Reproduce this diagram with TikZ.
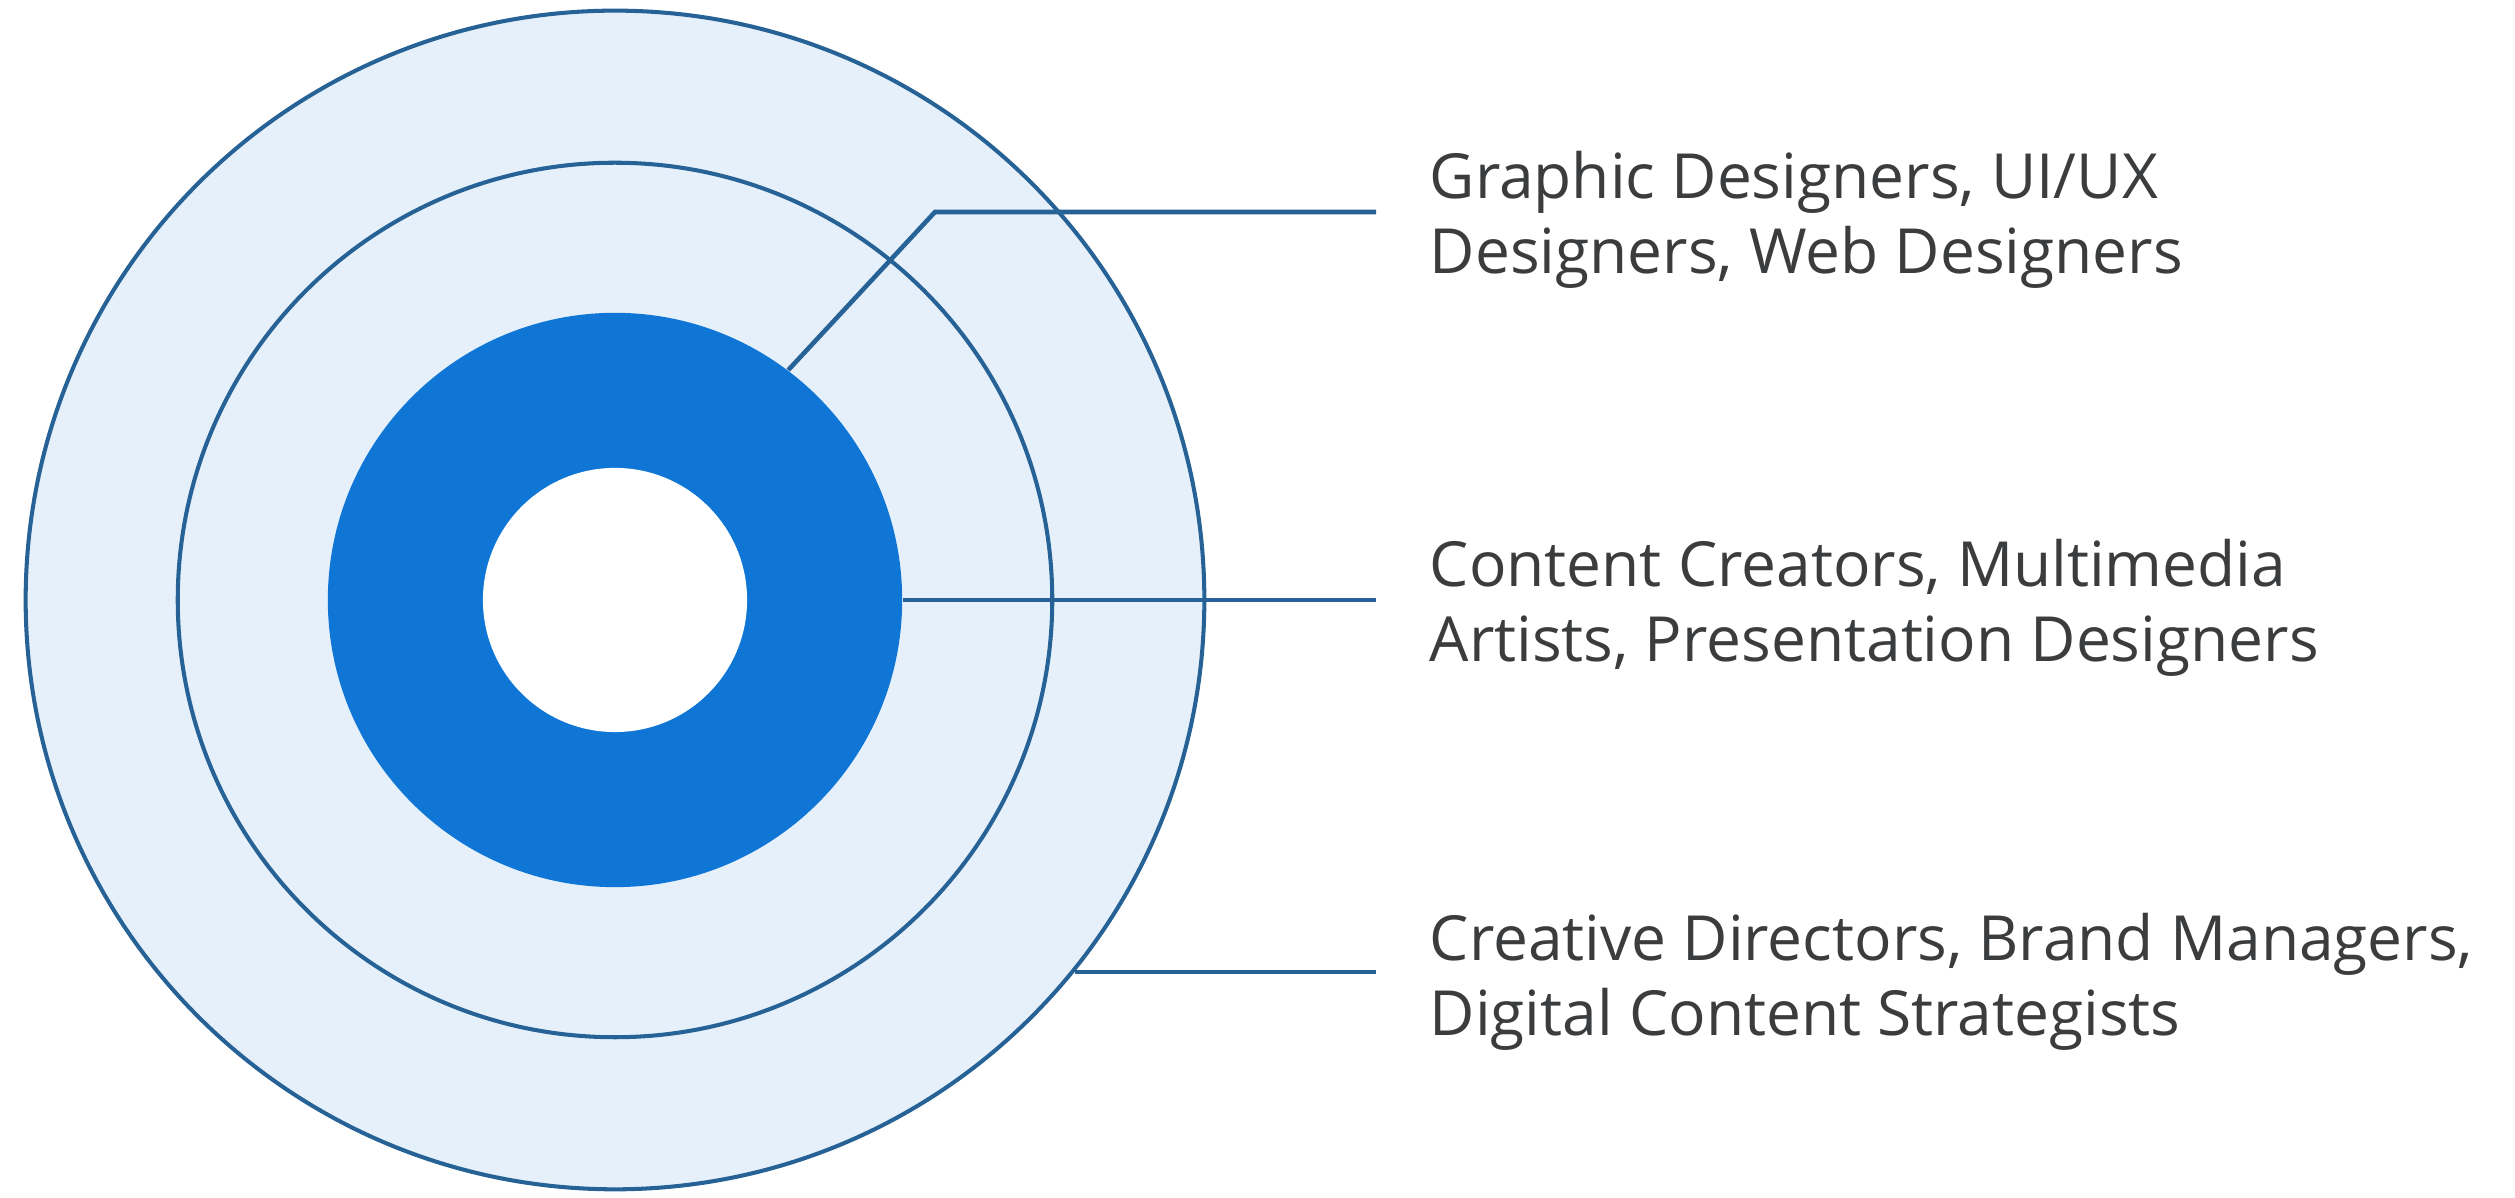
\documentclass[tikz,border=0pt]{standalone}
\usepackage{fontspec}
\setmainfont{Open Sans}
\usepackage{tikz}
\usetikzlibrary{positioning}
\definecolor{ringline}{RGB}{38,98,150}
\definecolor{ringfill}{RGB}{230,240,250}
\definecolor{coreblue}{RGB}{16,118,214}
\definecolor{labelgray}{RGB}{58,60,62}
\tikzstyle{band} = [circle, draw=ringline, line width=1.15pt, fill=ringfill, inner sep=0pt]
\tikzstyle{core} = [circle, fill=coreblue, inner sep=0pt]
\tikzstyle{hole} = [circle, fill=white, inner sep=0pt]
\tikzstyle{label} = [anchor=west, align=left, text=labelgray, inner xsep=0.53cm, inner ysep=0pt, yshift=-0.08cm, font=\fontsize{17.7}{21.3}\selectfont]
\tikzstyle{leader} = [draw=ringline, line width=1.3pt]

\begin{document}
\begin{tikzpicture}[x=0.01cm, y=0.01cm]
        \useasboundingbox (0,0) rectangle (2515,1198);
        \coordinate (c) at (615,598);
        \node (outer) [band, minimum size=11.78cm] at (c) {};
        \node (middle) [band, minimum size=8.74cm] at (c) {};
        \node (ring) [core, minimum size=5.74cm] at (c) {};
        \node (inner) [hole, minimum size=2.64cm] at (c) {};

        \node (graphic) [label] at (1376,986) {Graphic Designers, UI/UX\\Designers, Web Designers};
        \node (content) [label] at (1376,598) {Content Creators, Multimedia\\Artists, Presentation Designers};
        \node (creative) [label] at (1376,224) {Creative Directors, Brand Managers,\\Digital Content Strategists};

        \coordinate (bend) at (935,986);
        \draw [leader] (ring.53) -- (bend) -- (bend -| graphic.west);
        \draw [leader] (ring.east) -- (ring.east -| content.west);
        \draw [leader] (outer.-39.4) -- (outer.-39.4 -| creative.west);
    \end{tikzpicture}
\end{document}
